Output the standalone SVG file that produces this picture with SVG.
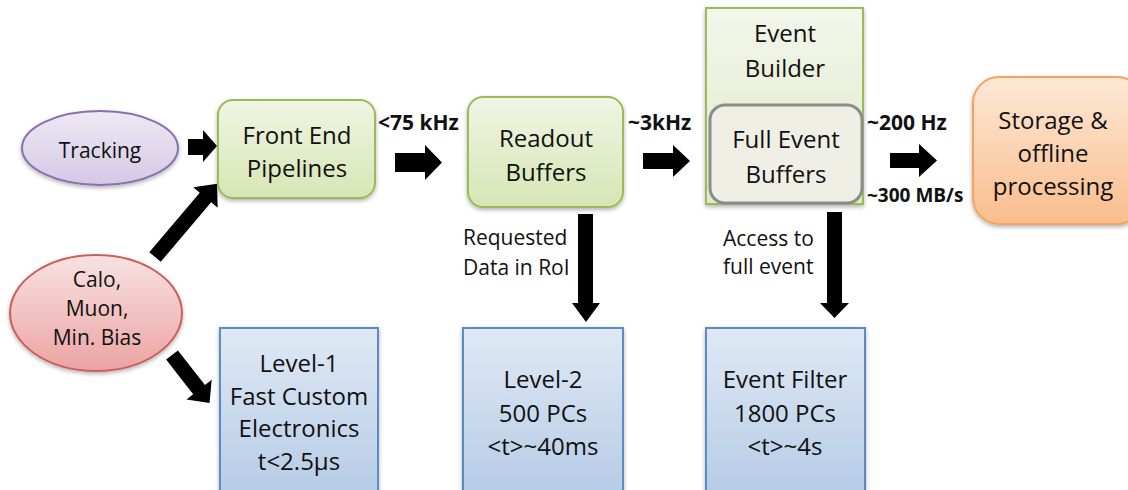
<svg xmlns="http://www.w3.org/2000/svg" width="1128" height="490" viewBox="0 0 1128 490">
<defs>
<linearGradient id="gGreen" x1="0" y1="0" x2="0" y2="1"><stop offset="0" stop-color="#f0f5e4"/><stop offset="1" stop-color="#d6e6b4"/></linearGradient>
<linearGradient id="gGreenL" x1="0" y1="0" x2="0" y2="1"><stop offset="0" stop-color="#f3f6ec"/><stop offset="1" stop-color="#dfeac6"/></linearGradient>
<linearGradient id="gBlue" x1="0" y1="0" x2="0" y2="1"><stop offset="0" stop-color="#dfe9f5"/><stop offset="1" stop-color="#b4cae5"/></linearGradient>
<linearGradient id="gPurple" x1="0" y1="0" x2="0" y2="1"><stop offset="0" stop-color="#eee9f4"/><stop offset="1" stop-color="#d4c8e4"/></linearGradient>
<linearGradient id="gRed" x1="0" y1="0" x2="0" y2="1"><stop offset="0" stop-color="#f8e2e2"/><stop offset="1" stop-color="#eca3a2"/></linearGradient>
<linearGradient id="gOrange" x1="0" y1="0" x2="0" y2="1"><stop offset="0" stop-color="#fde8d6"/><stop offset="1" stop-color="#f9bd8c"/></linearGradient>
<filter id="sh" x="-10%" y="-10%" width="120%" height="130%"><feDropShadow dx="0" dy="2" stdDeviation="2" flood-color="#000" flood-opacity="0.3"/></filter>
</defs>
<style>
text{font-family:"Open Sans","Liberation Sans",sans-serif;fill:#111;}
.t{font-size:24px;text-anchor:middle;}
.s{font-size:21px;}
.b{font-size:21px;font-weight:bold;}
.green{fill:url(#gGreen);stroke:#9bbb59;stroke-width:2;filter:url(#sh);}
.blue{fill:url(#gBlue);stroke:#5b8cc6;stroke-width:2;filter:url(#sh);}
.arrow{fill:#000;}
</style>

<g id="connectors">
<path class="arrow" d="M188,139 H203 V130 L217,146 L203,162 V155 H188 Z"/>
<path class="arrow" d="M395,153 H425 V145 L442,162.5 L425,180 V172 H395 Z"/>
<path class="arrow" d="M643,153 H673 V145 L690,161 L673,177 V169 H643 Z"/>
<path class="arrow" d="M890,153 H919 V144 L937,160.5 L919,177 V168 H890 Z"/>
<path class="arrow" transform="translate(155,257) rotate(-49.7)" d="M0,-7.5 H78 V-16 L96,0 L78,16 V7.5 H0 Z"/>
<path class="arrow" transform="translate(172,355) rotate(52)" d="M0,-7.5 H44 V-16 L61,0 L44,16 V7.5 H0 Z"/>
<path class="arrow" d="M578,214 H593 V303 H600 L586,322 L572,303 H578 Z"/>
<path class="arrow" d="M827,212 H842 V303 H849 L834.5,318 L820,303 H827 Z"/>
</g>

<g id="tracking">
<ellipse cx="100" cy="148" rx="78" ry="37" fill="url(#gPurple)" stroke="#8a70ad" stroke-width="2" filter="url(#sh)"/>
<text class="s" x="100" y="158" text-anchor="middle">Tracking</text>
</g>

<g id="calo">
<ellipse cx="96" cy="313" rx="86" ry="58" fill="url(#gRed)" stroke="#c9605c" stroke-width="2" filter="url(#sh)"/>
<text class="s" x="97" y="287" text-anchor="middle">Calo,</text>
<text class="s" x="97" y="316" text-anchor="middle">Muon,</text>
<text class="s" x="97" y="345" text-anchor="middle">Min. Bias</text>
</g>

<g id="front-end">
<rect class="green" x="218" y="100" width="157" height="98" rx="15"/>
<text class="t" x="297" y="144">Front End</text>
<text class="t" x="297" y="177">Pipelines</text>
</g>

<g id="readout">
<rect class="green" x="468" y="97" width="155" height="110" rx="15"/>
<text class="t" x="546" y="147">Readout</text>
<text class="t" x="546" y="181">Buffers</text>
</g>

<g id="event-builder">
<rect x="706" y="8" width="157" height="196" fill="url(#gGreenL)" stroke="#9bbb59" stroke-width="2" filter="url(#sh)"/>
<text class="t" x="785" y="42">Event</text>
<text class="t" x="785" y="77">Builder</text>
</g>

<g id="full-event-buffers">
<rect x="710" y="105" width="152" height="98" rx="15" fill="#efefe5" stroke="#8c8c8c" stroke-width="3"/>
<text class="t" x="786" y="148">Full Event</text>
<text class="t" x="786" y="183">Buffers</text>
</g>

<g id="storage">
<rect x="973" y="77" width="170" height="147" rx="26" fill="url(#gOrange)" stroke="#f4a460" stroke-width="2" filter="url(#sh)"/>
<text class="t" x="1053" y="129">Storage &amp;</text>
<text class="t" x="1053" y="162">offline</text>
<text class="t" x="1053" y="195">processing</text>
</g>

<g id="level1">
<rect class="blue" x="220" y="328" width="158" height="175"/>
<text class="t" x="299" y="372">Level-1</text>
<text class="t" x="299" y="405">Fast Custom</text>
<text class="t" x="299" y="437">Electronics</text>
<text class="t" x="299" y="470">t&lt;2.5μs</text>
</g>

<g id="level2">
<rect class="blue" x="463" y="328" width="160" height="175"/>
<text class="t" x="543" y="388">Level-2</text>
<text class="t" x="543" y="422">500 PCs</text>
<text class="t" x="543" y="455">&lt;t&gt;~40ms</text>
</g>

<g id="event-filter">
<rect class="blue" x="706" y="328" width="159" height="175"/>
<text class="t" x="785" y="388">Event Filter</text>
<text class="t" x="785" y="422">1800 PCs</text>
<text class="t" x="785" y="455">&lt;t&gt;~4s</text>
</g>

<g id="labels">
<text class="b" x="378" y="130">&lt;75 kHz</text>
<text class="b" x="628" y="130">~3kHz</text>
<text class="b" x="867" y="130">~200 Hz</text>
<text class="b" x="867" y="202" style="font-size:19px">~300 MB/s</text>
<text class="s" x="463" y="245">Requested</text>
<text class="s" x="463" y="275">Data in RoI</text>
<text class="s" x="723" y="246">Access to</text>
<text class="s" x="723" y="274">full event</text>
</g>
</svg>
